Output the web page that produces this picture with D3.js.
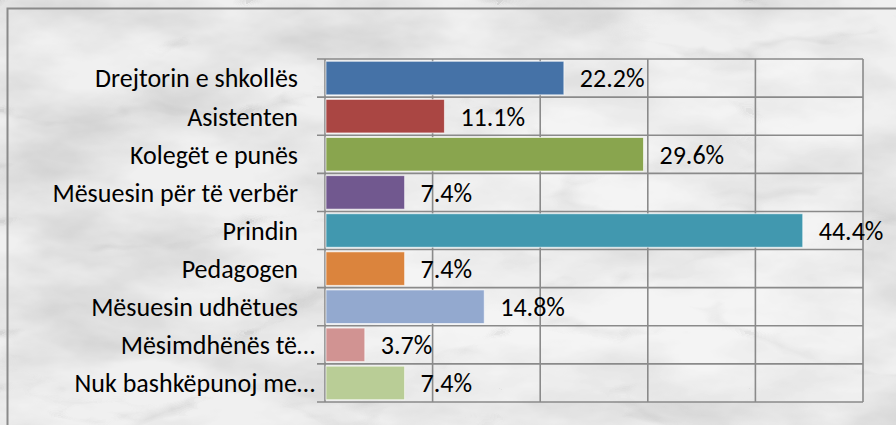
<!DOCTYPE html>
<html>
<head>
<meta charset="utf-8">
<script src="https://cdn.jsdelivr.net/npm/d3@7"></script>
<style>
  html, body { margin: 0; padding: 0; background: #f2f2f2; }
  svg { display: block; }
  text { font-family: Carlito, Lato, sans-serif; fill: #000; }
</style>
</head>
<body>
<script>
// categories (top to bottom) and their shares
var categories = [
    "Drejtorin e shkollës",
    "Asistenten",
    "Kolegët e punës",
    "Mësuesin për të verbër",
    "Prindin",
    "Pedagogen",
    "Mësuesin udhëtues",
    "Mësimdhënës të…",
    "Nuk bashkëpunoj me…"
];
var values = [0.222, 0.111, 0.296, 0.074, 0.444, 0.074, 0.148, 0.037, 0.074];
var colors = ["#4572a7", "#aa4643", "#89a54e", "#71588f", "#4198af",
              "#db843d", "#93a9cf", "#d19392", "#b9cd96"];
var xTicks = [0, 0.1, 0.2, 0.3, 0.4, 0.5];

var width = 896, height = 425;
var plotLeft = 325, plotRight = 863, plotTop = 59, plotBottom = 402;
var fontSize = "26px";

var svg = d3.select("body").append("svg")
    .attr("width", width)
    .attr("height", height);

// marble-ish background
var defs = svg.append("defs");
var f = defs.append("filter").attr("id", "marble")
    .attr("x", 0).attr("y", 0).attr("width", "100%").attr("height", "100%");
f.append("feTurbulence")
    .attr("type", "fractalNoise")
    .attr("baseFrequency", "0.006 0.014")
    .attr("numOctaves", 5)
    .attr("seed", 7)
    .attr("result", "blot");
f.append("feColorMatrix").attr("in", "blot").attr("type", "matrix")
    .attr("values", "0 0 0 0 0.55  0 0 0 0 0.55  0 0 0 0 0.55  1.6 0 0 0 -0.6")
    .attr("result", "blotA");
f.append("feTurbulence")
    .attr("type", "turbulence")
    .attr("baseFrequency", "0.004 0.009")
    .attr("numOctaves", 4)
    .attr("seed", 11)
    .attr("result", "vein");
f.append("feColorMatrix").attr("in", "vein").attr("type", "matrix")
    .attr("values", "0 0 0 0 0.5  0 0 0 0 0.5  0 0 0 0 0.5  -3 0 0 0 0.45")
    .attr("result", "veinA");
f.append("feMerge").selectAll("feMergeNode")
    .data(["SourceGraphic", "blotA", "veinA"])
    .enter().append("feMergeNode").attr("in", d => d);

svg.append("rect")
    .attr("width", width).attr("height", height)
    .attr("fill", "#f0f0f0")
    .attr("filter", "url(#marble)");

// outer frame (runs off the right and bottom edges)
svg.append("rect")
    .attr("x", 7.5).attr("y", 8.5)
    .attr("width", width + 20).attr("height", height + 20)
    .attr("fill", "none")
    .attr("stroke", "#8a8a8a")
    .attr("stroke-width", 2);

var x = d3.scaleLinear().domain([0, 0.5]).range([plotLeft, plotRight]);
var y = d3.scaleBand().domain(categories).range([plotTop, plotBottom])
    .paddingInner(0.12).paddingOuter(0.06);

// plot area a bit lighter
svg.append("rect")
    .attr("x", plotLeft).attr("y", plotTop)
    .attr("width", plotRight - plotLeft).attr("height", plotBottom - plotTop)
    .attr("fill", "#fff").attr("opacity", 0.3);

var grid = svg.append("g")
    .attr("stroke", "#8a8a8a")
    .attr("stroke-width", 1.6);

grid.selectAll("line.v")
    .data(xTicks)
    .enter().append("line")
    .attr("class", "v")
    .attr("x1", d => x(d)).attr("x2", d => x(d))
    .attr("y1", plotTop).attr("y2", plotBottom);

grid.selectAll("line.h")
    .data(d3.range(categories.length + 1))
    .enter().append("line")
    .attr("class", "h")
    .attr("x1", plotLeft - 8).attr("x2", plotRight)
    .attr("y1", i => plotTop + i * y.step())
    .attr("y2", i => plotTop + i * y.step());

// bars
svg.selectAll("rect.bar")
    .data(values)
    .enter().append("rect")
    .attr("class", "bar")
    .attr("x", x(0) + 1)
    .attr("y", (d, i) => y(categories[i]))
    .attr("width", d => x(d) - x(0) - 1)
    .attr("height", y.bandwidth())
    .attr("fill", (d, i) => colors[i])
    .attr("stroke", "#fff")
    .attr("stroke-opacity", 0.6)
    .attr("stroke-width", 1);

// value labels
var fmt = d3.format(".1%");
svg.selectAll("text.val")
    .data(values)
    .enter().append("text")
    .attr("class", "val")
    .attr("x", d => x(d) + 16)
    .attr("y", (d, i) => y(categories[i]) + y.bandwidth() / 2)
    .attr("dy", "0.36em")
    .style("font-size", fontSize)
    .text(d => fmt(d));

// category labels
svg.selectAll("text.cat")
    .data(categories)
    .enter().append("text")
    .attr("class", "cat")
    .attr("x", d => d.endsWith("…") ? plotLeft - 10 : plotLeft - 27)
    .attr("y", d => y(d) + y.bandwidth() / 2)
    .attr("dy", "0.36em")
    .attr("text-anchor", "end")
    .style("font-size", fontSize)
    .text(d => d);
</script>
</body>
</html>
